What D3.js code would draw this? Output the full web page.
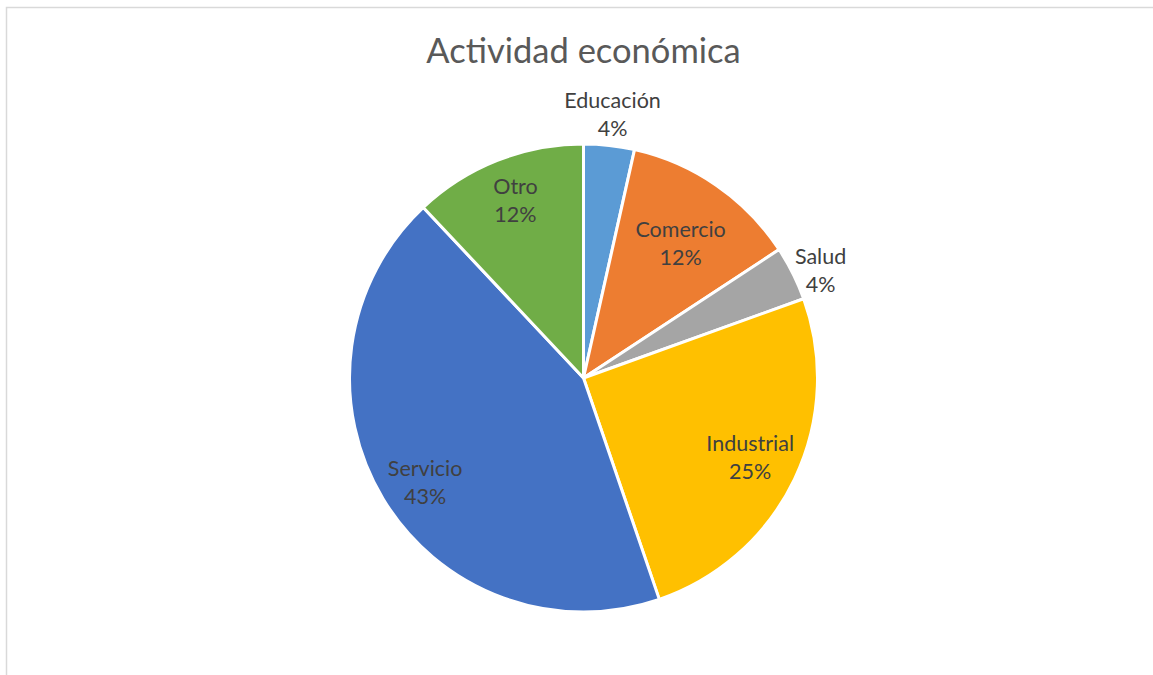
<!DOCTYPE html>
<html>
<head>
<meta charset="utf-8">
<script src="https://cdn.jsdelivr.net/npm/d3@7"></script>
<style>
  html, body { margin: 0; padding: 0; background: #fff; }
  svg { display: block; }
  text { font-family: Lato, "Open Sans", sans-serif; }
</style>
</head>
<body>
<svg id="chart" width="1153" height="675"></svg>
<script>
// Actividad económica: share of respondents by sector
const categories = ["Educación", "Comercio", "Salud", "Industrial", "Servicio", "Otro"];
const counts     = [14, 49, 15, 101, 173, 48];
const colors     = ["#5b9bd5", "#ed7d31", "#a5a5a5", "#ffc000", "#4472c4", "#70ad47"];
const title      = "Actividad económica";

// small slices get their label outside the pie
const outsideLabels = new Set(["Educación", "Salud"]);
// small vertical nudges so labels sit comfortably inside their slices
const labelNudge = { "Comercio": 7, "Salud": 11, "Servicio": 10, "Otro": -5 };

const W = 1153, H = 675;
const cx = 583.5, cy = 378, R = 234;

const svg = d3.select("#chart");

// chart area frame
svg.append("rect")
  .attr("x", 6.5).attr("y", 7.5)
  .attr("width", W + 10).attr("height", H + 10)
  .attr("fill", "none")
  .attr("stroke", "#d9d9d9")
  .attr("stroke-width", 1.5);

svg.append("text")
  .attr("x", cx).attr("y", 63)
  .attr("text-anchor", "middle")
  .attr("font-size", 34.5)
  .attr("fill", "#595959")
  .text(title);

const data = categories.map((c, i) => ({ name: c, value: counts[i], color: colors[i] }));
const total = d3.sum(counts);

const pie = d3.pie().value(d => d.value).sort(null);
const arc = d3.arc().innerRadius(0).outerRadius(R);
const arcs = pie(data);

const g = svg.append("g").attr("transform", `translate(${cx},${cy})`);

g.selectAll("path.slice")
  .data(arcs)
  .join("path")
  .attr("class", "slice")
  .attr("d", arc)
  .attr("fill", d => d.data.color)
  .attr("stroke", "#fff")
  .attr("stroke-width", 3)
  .attr("stroke-linejoin", "round");

const fmt = v => Math.round(v / total * 100) + "%";

const labelRadius = d => {
  if (outsideLabels.has(d.data.name)) return R + 31;
  if (d.data.name === "Comercio") return R * 0.73;
  return R * 0.79;
};

const labels = g.selectAll("g.label")
  .data(arcs)
  .join("g")
  .attr("class", "label")
  .attr("transform", d => {
    const a = (d.startAngle + d.endAngle) / 2;
    const r = labelRadius(d);
    const dy = labelNudge[d.data.name] || 0;
    return `translate(${r * Math.sin(a)},${-r * Math.cos(a) + dy})`;
  });

labels.append("text")
  .attr("text-anchor", "middle")
  .attr("y", -7)
  .attr("font-size", 21.5)
  .attr("fill", "#404040")
  .text(d => d.data.name);

labels.append("text")
  .attr("text-anchor", "middle")
  .attr("y", 21)
  .attr("font-size", 21.5)
  .attr("fill", "#404040")
  .text(d => fmt(d.data.value));
</script>
</body>
</html>
